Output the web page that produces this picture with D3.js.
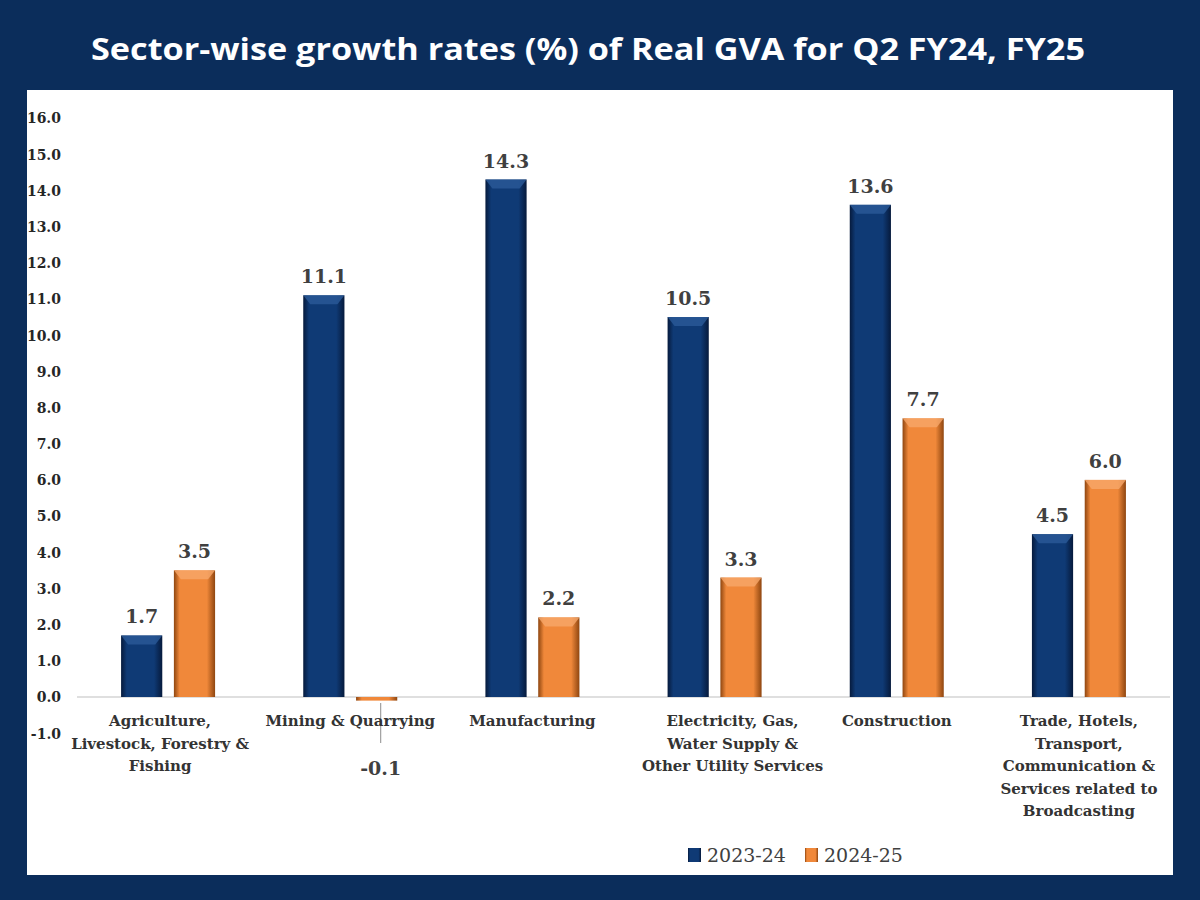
<!DOCTYPE html>
<html><head><meta charset="utf-8">
<script src="https://cdn.jsdelivr.net/npm/d3@7"></script>
<style>html,body{margin:0;padding:0;background:#0b2d5b;}</style>
</head><body><svg id="c" width="1200" height="900"></svg>
<script>
const title = "Sector-wise growth rates (%) of Real GVA for Q2 FY24, FY25";
const categories = [
  ["Agriculture,", "Livestock, Forestry &", "Fishing"],
  ["Mining & Quarrying"],
  ["Manufacturing"],
  ["Electricity, Gas,", "Water Supply &", "Other Utility Services"],
  ["Construction"],
  ["Trade, Hotels,", "Transport,", "Communication &", "Services related to", "Broadcasting"]
];
const seriesNames = ["2023-24", "2024-25"];
const values2324 = [1.7, 11.1, 14.3, 10.5, 13.6, 4.5];
const values2425 = [3.5, -0.1, 2.2, 3.3, 7.7, 6.0];
const yTicks = [-1, 0, 1, 2, 3, 4, 5, 6, 7, 8, 9, 10, 11, 12, 13, 14, 15, 16];

const fmt = v => d3.format(".1f")(v).replace("\u2212", "-");

const svg = d3.select("#c");
const defs = svg.append("defs");
function grad(id, edge, mid) {
  const g = defs.append("linearGradient").attr("id", id).attr("x1", "0").attr("x2", "1").attr("y1", "0").attr("y2", "0");
  g.append("stop").attr("offset", "0%").attr("stop-color", edge);
  g.append("stop").attr("offset", "14%").attr("stop-color", mid);
  g.append("stop").attr("offset", "80%").attr("stop-color", mid);
  g.append("stop").attr("offset", "100%").attr("stop-color", edge);
}
grad("gBlue", "#061a3c", "#0f3a75");
grad("gOrange", "#8f4610", "#f0883a");
const colors = ["url(#gBlue)", "url(#gOrange)"];

svg.append("rect").attr("x", 0).attr("y", 0).attr("width", 1200).attr("height", 900).attr("fill", "#0b2d5b");
svg.append("text").attr("x", 588).attr("y", 60).attr("text-anchor", "middle")
  .attr("font-family", "'Open Sans', sans-serif").attr("font-weight", 700).attr("font-size", 30)
  .attr("textLength", 994).attr("lengthAdjust", "spacingAndGlyphs")
  .attr("fill", "#ffffff").text(title);
svg.append("rect").attr("x", 27).attr("y", 90).attr("width", 1146).attr("height", 785).attr("fill", "#ffffff");

const serif = "'DejaVu Serif', 'Liberation Serif', serif";
const x0 = d3.scaleBand().domain(d3.range(categories.length)).range([77, 1170]);
const x1 = d3.scaleBand().domain([0, 1]).range([0, 94]).paddingInner(0.22);
const y = d3.scaleLinear().domain([0, 16]).range([697, 118]);

// y axis labels
const yAxis = d3.axisLeft(y).tickValues(yTicks).tickFormat(fmt).tickSize(0).tickPadding(0);
const ga = svg.append("g").attr("transform", "translate(61,0)").call(yAxis);
ga.select(".domain").remove();
ga.selectAll("text").attr("font-family", serif).attr("font-weight", 700).attr("font-size", 14).attr("fill", "#262626").attr("dy", "0.35em");

// zero line
svg.append("line").attr("x1", 77).attr("x2", 1170).attr("y1", y(0)).attr("y2", y(0)).attr("stroke", "#d4d4d4").attr("stroke-width", 1.5);

const data = [];
categories.forEach((c, i) => {
  data.push({ i, s: 0, v: values2324[i] });
  data.push({ i, s: 1, v: values2425[i] });
});

const bx = d => x0(d.i) + (x0.bandwidth() - 94) / 2 + x1(d.s);
const bars = svg.append("g").selectAll("g").data(data).join("g");
bars.append("rect")
  .attr("x", bx).attr("width", x1.bandwidth())
  .attr("y", d => y(Math.max(0, d.v))).attr("height", d => Math.max(2, Math.abs(y(d.v) - y(0))))
  .attr("fill", d => colors[d.s]);
bars.filter(d => d.v > 0).append("path")
  .attr("d", d => {
    const x = bx(d), w = x1.bandwidth(), t = y(d.v);
    return `M${x},${t}L${x + w},${t}L${x + w - 7},${t + 9}L${x + 7},${t + 9}Z`;
  })
  .attr("fill", d => d.s === 0 ? "#2b5a98" : "#f7a86a").attr("opacity", 0.8);

// value labels
bars.append("text")
  .attr("x", d => bx(d) + x1.bandwidth() / 2 + (d.v < 0 ? 4 : 0))
  .attr("y", d => d.v >= 0 ? y(d.v) - 12 : y(0) + 78)
  .attr("text-anchor", "middle")
  .attr("font-family", serif).attr("font-weight", 700).attr("font-size", 19).attr("fill", "#404040")
  .text(d => fmt(d.v));
bars.filter(d => d.v < 0).append("line")
  .attr("x1", d => bx(d) + x1.bandwidth() / 2 + 4).attr("x2", d => bx(d) + x1.bandwidth() / 2 + 4)
  .attr("y1", y(0) + 6).attr("y2", y(0) + 46).attr("stroke", "#a0a0a0").attr("stroke-width", 1.2);

// category labels
const cl = svg.append("g").selectAll("text").data(categories).join("text")
  .attr("x", (d, i) => x0(i) + x0.bandwidth() / 2 + (i === 3 ? 18 : 0) + (i === 0 ? -8 : 0))
  .attr("y", 726).attr("text-anchor", "middle")
  .attr("font-family", serif).attr("font-weight", 700).attr("font-size", 15).attr("fill", "#333333");
cl.selectAll("tspan").data(d => d).join("tspan")
  .attr("x", function () { return d3.select(this.parentNode).attr("x"); })
  .attr("dy", (d, k) => k === 0 ? 0 : 22.5).text(d => d);

// legend
const leg = svg.append("g").selectAll("g").data(seriesNames).join("g")
  .attr("transform", (d, i) => `translate(${688 + i * 117},848)`);
leg.append("rect").attr("x", 0).attr("y", 0).attr("width", 13).attr("height", 14).attr("fill", (d, i) => colors[i]);
leg.append("text").attr("x", 19).attr("y", 14).attr("font-family", serif).attr("font-size", 19).attr("fill", "#404040").text(d => d);
</script>
</body></html>
